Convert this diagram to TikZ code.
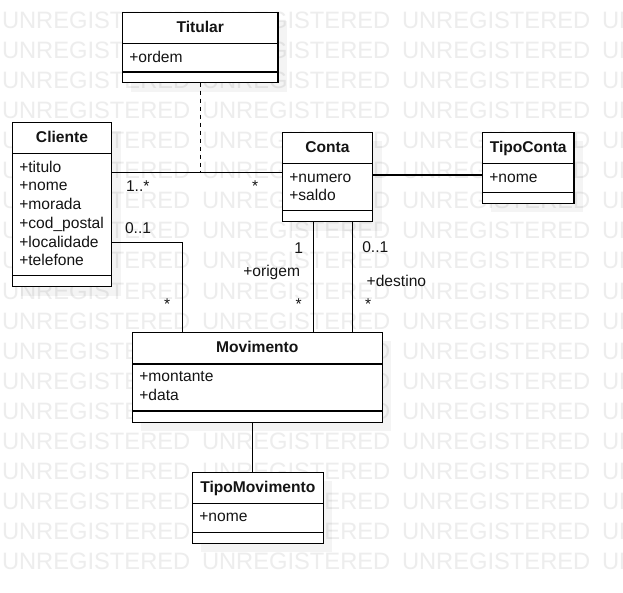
\documentclass[tikz,border=0pt]{standalone}
\usepackage{fontspec}
\setmainfont{Liberation Sans}
\definecolor{wmgray}{RGB}{237,237,237}
\definecolor{ink}{RGB}{20,20,20}
\begin{document}
\begin{tikzpicture}[x=1pt,y=-1pt,
  every node/.style={inner sep=0pt,outer sep=0pt},
  wm/.style={text=wmgray,font=\fontsize{23.7}{28}\selectfont,anchor=base west},
  shade/.style={fill=black,opacity=0.045},
  cls/.style={draw=black,fill=white,line width=1.2pt,anchor=north west},
  bline/.style={draw=black,line width=1.2pt},
  ttl/.style={text=ink,font=\fontsize{15.6}{18.7}\selectfont\bfseries,anchor=base},
  attr/.style={text=ink,font=\fontsize{15.6}{18.7}\selectfont,anchor=base west},
  lbl/.style={text=ink,font=\fontsize{15.6}{18.7}\selectfont,anchor=base west},
  conn/.style={draw=black,line width=1.2pt},
  dconn/.style={draw=black,line width=1.2pt,dash pattern=on 4pt off 4pt}]
\useasboundingbox (0,0) rectangle (623,593);
\fill[white] (0,0) rectangle (623,593);
% watermark
\foreach \r in {0,...,18}{
  \foreach \c in {0,...,3}{
    \node[wm] (wm-\r-\c) at (2+200*\c, 29+30*\r) {UNREGISTERED};
  }
}
% shadows
\fill[shade] (131.3,21.3) rectangle (287,91.7);
\fill[shade] (21.3,131.3) rectangle (120.7,295.7);
\fill[shade] (291.3,141.3) rectangle (381.7,230.7);
\fill[shade] (491.3,141.3) rectangle (583,212.3);
\fill[shade] (141.3,341.3) rectangle (391.3,431.3);
\fill[shade] (201.3,481.3) rectangle (332.3,552.3);

% Titular
\node[cls,minimum width=155.7pt,minimum height=70.4pt] (titular) at (122.3,12.3) {};
\draw[bline] ([yshift=-31pt]titular.north west) -- ([yshift=-31pt]titular.north east);
\draw[bline] ([yshift=10.7pt]titular.south west) -- ([yshift=10.7pt]titular.south east);
\node[ttl] (titular-t) at (200.2,33) {Titular};
\node[attr] (titular-a1) at (129.3,63) {+ordem};

% Cliente
\node[cls,minimum width=99.4pt,minimum height=164.4pt] (cliente) at (12.3,122.3) {};
\draw[bline] ([yshift=-31pt]cliente.north west) -- ([yshift=-31pt]cliente.north east);
\draw[bline] ([yshift=11pt]cliente.south west) -- ([yshift=11pt]cliente.south east);
\node[ttl] (cliente-t) at (62,142.3) {Cliente};
\node[attr] (cliente-a1) at (19.3,172.3) {+titulo};
\node[attr] (cliente-a2) at (19.3,191) {+nome};
\node[attr] (cliente-a3) at (19.3,209.7) {+morada};
\node[attr] (cliente-a4) at (19.3,228.4) {+cod\_postal};
\node[attr] (cliente-a5) at (19.3,247.1) {+localidade};
\node[attr] (cliente-a6) at (19.3,265.8) {+telefone};

% Conta
\node[cls,minimum width=90.4pt,minimum height=89.4pt] (conta) at (282.3,132.3) {};
\draw[bline] ([yshift=-31pt]conta.north west) -- ([yshift=-31pt]conta.north east);
\draw[bline] ([yshift=11pt]conta.south west) -- ([yshift=11pt]conta.south east);
\node[ttl] (conta-t) at (327.5,152.3) {Conta};
\node[attr] (conta-a1) at (289.3,182.3) {+numero};
\node[attr] (conta-a2) at (289.3,201) {+saldo};

% TipoConta
\node[cls,minimum width=91.7pt,minimum height=71pt] (tipoconta) at (482.3,132.3) {};
\draw[bline] ([yshift=-31pt]tipoconta.north west) -- ([yshift=-31pt]tipoconta.north east);
\draw[bline] ([yshift=11pt]tipoconta.south west) -- ([yshift=11pt]tipoconta.south east);
\node[ttl] (tipoconta-t) at (528.2,152.3) {TipoConta};
\node[attr] (tipoconta-a1) at (489.3,182.3) {+nome};

% Movimento
\node[cls,minimum width=250pt,minimum height=90pt] (movimento) at (132.3,332.3) {};
\draw[bline] ([yshift=-31.7pt]movimento.north west) -- ([yshift=-31.7pt]movimento.north east);
\draw[bline] ([yshift=11.3pt]movimento.south west) -- ([yshift=11.3pt]movimento.south east);
\node[ttl] (movimento-t) at (257.3,352.3) {Movimento};
\node[attr] (movimento-a1) at (139.3,381.7) {+montante};
\node[attr] (movimento-a2) at (139.3,400.4) {+data};

% TipoMovimento
\node[cls,minimum width=131pt,minimum height=71pt] (tipomov) at (192.3,472.3) {};
\draw[bline] ([yshift=-31.4pt]tipomov.north west) -- ([yshift=-31.4pt]tipomov.north east);
\draw[bline] ([yshift=11pt]tipomov.south west) -- ([yshift=11pt]tipomov.south east);
\node[ttl] (tipomov-t) at (257.8,492.3) {TipoMovimento};
\node[attr] (tipomov-a1) at (199.3,521.7) {+nome};

% connectors
\coordinate (k1) at ([yshift=-50pt]cliente.north east);
\draw[conn] (k1) -- (k1 -| conta.west);
\coordinate (k2) at (k1 -| titular.south);
\draw[dconn] (titular.south) -- (k2);
\coordinate (k3) at ([yshift=-120pt]cliente.north east);
\coordinate (k4) at ([xshift=50pt]movimento.north west);
\draw[conn] (k3) -- (k3 -| k4) -- (k4);
\coordinate (k5) at ([xshift=31.4pt]conta.south west);
\draw[conn] (k5) -- (k5 |- movimento.north);
\coordinate (k6) at ([xshift=-20.4pt]conta.south east);
\draw[conn] (k6) -- (k6 |- movimento.north);
\coordinate (k7) at ([yshift=-42.7pt]conta.north east);
\draw[conn] (k7) -- (k7 -| tipoconta.west);
\coordinate (k8) at ([xshift=-5pt]movimento.south);
\draw[conn] (k8) -- (k8 |- tipomov.north);

% labels
\node[lbl] (l1) at (126,191.5) {1..*};
\node[lbl] (l2) at (252,191.5) {*};
\node[lbl] (l3) at (125,233.3) {0..1};
\node[lbl] (l4) at (164,309.5) {*};
\node[lbl] (l5) at (294.3,253.3) {1};
\node[lbl] (l6) at (243.3,277) {+origem};
\node[lbl] (l7) at (295.5,309.5) {*};
\node[lbl] (l8) at (362.3,252.3) {0..1};
\node[lbl] (l9) at (366.7,286.7) {+destino};
\node[lbl] (l10) at (365,309.5) {*};
\end{tikzpicture}
\end{document}
